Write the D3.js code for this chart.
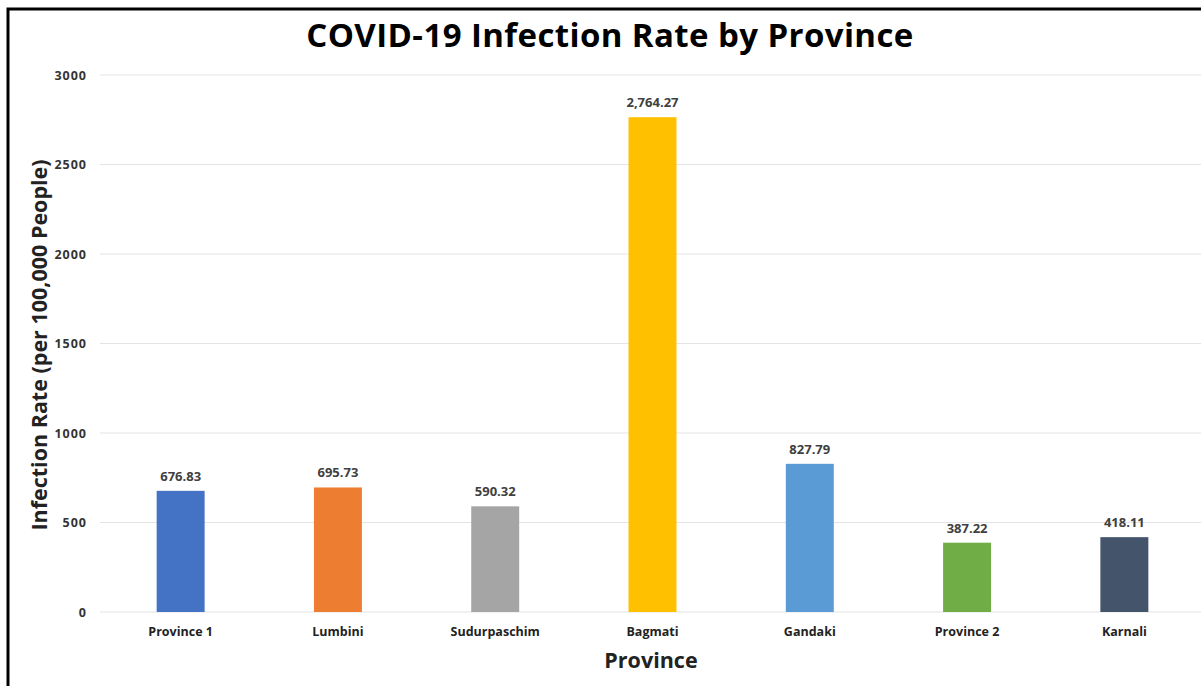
<!DOCTYPE html>
<html>
<head>
<meta charset="utf-8">
<script src="https://cdn.jsdelivr.net/npm/d3@7"></script>
<style>
  html, body { margin: 0; padding: 0; background: #fff; }
  svg { display: block; }
</style>
</head>
<body>
<svg id="chart" width="1201" height="686"></svg>
<script>
// Infection rate per 100,000 people, by province
const provinces = ["Province 1", "Lumbini", "Sudurpaschim", "Bagmati", "Gandaki", "Province 2", "Karnali"];
const rates = [676.83, 695.73, 590.32, 2764.27, 827.79, 387.22, 418.11];
const barColors = ["#4472C4", "#ED7D31", "#A5A5A5", "#FFC000", "#5B9BD5", "#70AD47", "#44546A"];
const yTicks = [0, 500, 1000, 1500, 2000, 2500, 3000];

const svg = d3.select("#chart");
const font = "Open Sans, Lato, sans-serif";

// outer frame
svg.append("rect")
  .attr("x", 8).attr("y", 9)
  .attr("width", 1220).attr("height", 700)
  .attr("fill", "none").attr("stroke", "#000").attr("stroke-width", 3);

const x = d3.scaleBand().domain(provinces).range([102, 1203]).paddingInner(0.695).paddingOuter(0.3475);
const y = d3.scaleLinear().domain([0, 3000]).range([612, 75]);

// gridlines
svg.append("g")
  .selectAll("line")
  .data(yTicks)
  .join("line")
  .attr("x1", 100).attr("x2", 1201)
  .attr("y1", d => y(d)).attr("y2", d => y(d))
  .attr("stroke", "#e3e3e3").attr("stroke-width", 1);

// y axis labels
const yAxis = d3.axisLeft(y).tickValues(yTicks).tickSize(0).tickPadding(0).tickFormat(d3.format("d"));
svg.append("g")
  .attr("transform", "translate(87,0)")
  .call(yAxis)
  .call(g => g.select(".domain").remove())
  .selectAll("text")
  .attr("font-family", font).attr("font-size", 12.5).attr("font-weight", 700)
  .attr("letter-spacing", 1)
  .attr("fill", "#333");

// bars
svg.append("g")
  .selectAll("rect")
  .data(provinces)
  .join("rect")
  .attr("x", d => x(d))
  .attr("y", (d, i) => y(rates[i]))
  .attr("width", x.bandwidth())
  .attr("height", (d, i) => y(0) - y(rates[i]))
  .attr("fill", (d, i) => barColors[i]);

// value labels
svg.append("g")
  .selectAll("text")
  .data(provinces)
  .join("text")
  .attr("x", d => x(d) + x.bandwidth() / 2)
  .attr("y", (d, i) => y(rates[i]) - 10)
  .attr("text-anchor", "middle")
  .attr("font-family", font).attr("font-size", 13).attr("font-weight", 700)
  .attr("fill", "#404040")
  .text((d, i) => d3.format(",.2f")(rates[i]));

// x axis labels
const xAxis = d3.axisBottom(x).tickSize(0).tickPadding(0);
svg.append("g")
  .attr("transform", "translate(0,627)")
  .call(xAxis)
  .call(g => g.select(".domain").remove())
  .selectAll("text")
  .attr("font-family", font).attr("font-size", 12.5).attr("font-weight", 700)
  .attr("fill", "#222");

// title
svg.append("text")
  .attr("x", 610).attr("y", 47)
  .attr("text-anchor", "middle")
  .attr("font-family", font).attr("font-size", 33).attr("font-weight", 700)
  .attr("letter-spacing", 0.4)
  .attr("fill", "#000")
  .text("COVID-19 Infection Rate by Province");

// axis titles
svg.append("text")
  .attr("x", 651).attr("y", 668)
  .attr("text-anchor", "middle")
  .attr("font-family", font).attr("font-size", 21.5).attr("font-weight", 700)
  .attr("fill", "#222")
  .text("Province");

svg.append("text")
  .attr("transform", "translate(47,345) rotate(-90)")
  .attr("text-anchor", "middle")
  .attr("font-family", font).attr("font-size", 21.5).attr("font-weight", 700)
  .attr("fill", "#222")
  .text("Infection Rate (per 100,000 People)");
</script>
</body>
</html>
